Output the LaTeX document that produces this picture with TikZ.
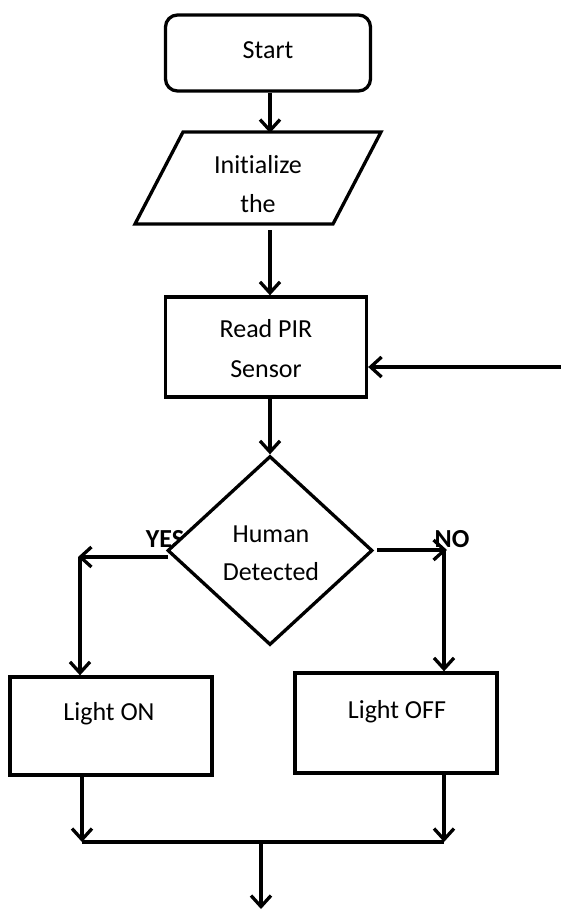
\documentclass[tikz,border=0pt]{standalone}
\usepackage{fontspec}
\setmainfont{Carlito}[RawFeature={-liga}]
\usetikzlibrary{arrows.meta,shapes.geometric}
\begin{document}
\begin{tikzpicture}[x=1pt,y=-1pt,line width=3.3pt,
  arr/.style={-{Straight Barb[length=11pt,width=20pt]}},
  box/.style={draw,rectangle,inner sep=0pt},
  lbl/.style={anchor=base,font=\fontsize{26}{31}\selectfont,inner sep=0pt},
  yn/.style={anchor=base,font=\fontsize{26}{31}\selectfont\bfseries,inner sep=0pt}]
\useasboundingbox (0,0) rectangle (561,910);
% shapes
\node[box,rounded corners=12pt,minimum width=205pt,minimum height=76pt] (start) at (268,53) {};
\node[inner sep=0pt,minimum width=246pt,minimum height=92pt] (init) at (258,178) {};
\draw (183,132) -- (381,132) -- (333,224) -- (135,224) -- cycle;
\node[box,minimum width=201pt,minimum height=100pt] (read) at (266,347) {};
\node[yn] (yes) at (165,547) {YES};
\node[yn] (no) at (452,547) {NO};
\node[draw,diamond,fill=white,inner sep=0pt,minimum width=205pt,minimum height=189pt] (dec) at (270,550.5) {};
\node[box,minimum width=202pt,minimum height=98pt] (lon) at (111,726) {};
\node[box,minimum width=202pt,minimum height=100pt] (loff) at (396,723) {};
% texts
\node[lbl] (tstart) at (268,58) {Start};
\node[lbl] (tinit1) at (258,173) {Initialize};
\node[lbl] (tinit2) at (258,212) {the};
\node[lbl] (tread1) at (266,337) {Read PIR};
\node[lbl] (tread2) at (266,377) {Sensor};
\node[lbl] (tdec1) at (271,542) {Human};
\node[lbl] (tdec2) at (271,580) {Detected};
\node[lbl] (tlon) at (109,720) {Light ON};
\node[lbl] (tloff) at (397,718) {Light OFF};
% coordinates
\coordinate (inR) at (561,367);
\coordinate (yl) at (168,557);
\coordinate (ycorner) at (80,557);
\coordinate (nr) at (377,550);
\coordinate (ncorner) at (444,550);
\coordinate (jl) at (82,842);
\coordinate (jr) at (444,842);
\coordinate (jm) at (261,842);
\coordinate (out) at (261,909);
% connectors
\draw[arr] (start.south -| 270,0) -- (270,133);
\draw[arr] (270,230) -- (read.north -| 270,0);
\draw[arr] (inR) -- (read.east |- inR);
\draw[arr] (read.south -| 270,0) -- (dec.north);
\draw[arr] (yl) -- (78,557);
\draw[arr] (ycorner) -- (ycorner |- lon.north);
\draw[arr] (nr) -- (447,550);
\draw[arr] (ncorner) -- (ncorner |- loff.north);
\draw[arr] (lon.south -| jl) -- (jl);
\draw[arr] (loff.south -| jr) -- (jr);
\draw (jl) -- (jr);
\draw[arr] (jm) -- (out);
\end{tikzpicture}
\end{document}
